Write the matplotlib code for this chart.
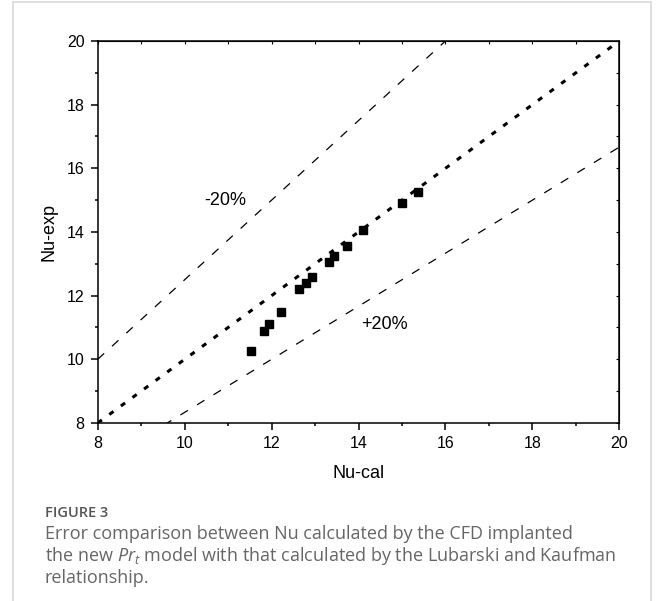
import matplotlib
matplotlib.use("Agg")
import matplotlib.pyplot as plt
from matplotlib.patches import Rectangle
from matplotlib.ticker import MultipleLocator

# Données
nu_cal = [11.52, 11.83, 11.95, 12.22, 12.64, 12.79, 12.92, 13.33, 13.44, 13.74, 14.10, 15.01, 15.38]
nu_exp = [10.26, 10.89, 11.12, 11.49, 12.20, 12.40, 12.60, 13.05, 13.25, 13.57, 14.06, 14.90, 15.25]
line_x = [8, 20]
err = 0.20

plt.rcParams['font.family'] = ['Liberation Sans', 'DejaVu Sans']
plt.rcParams['mathtext.fontset'] = 'custom'
plt.rcParams['mathtext.it'] = 'Open Sans:italic'
plt.rcParams['mathtext.rm'] = 'Open Sans'

fig = plt.figure(figsize=(6.58, 6.01), dpi=100)
ax = fig.add_axes([0.1485, 0.2962, 0.7927, 0.6356])

# Lignes de référence
ax.plot(line_x, line_x, color='black', lw=2.2, linestyle=(0, (1.7, 3.0)))
ax.plot(line_x, [v / (1 - err) for v in line_x], color='black', lw=0.9, linestyle=(0, (7, 8.5)))
ax.plot(line_x, [v / (1 + err) for v in line_x], color='black', lw=0.9, linestyle=(0, (7, 8.5)))

# Points
ax.plot(nu_cal, nu_exp, 's', color='black', markersize=6, linestyle='none')

ax.text(10.45, 15.0, '-20%', fontsize=13, va='center', ha='left')
ax.text(14.05, 11.09, '+20%', fontsize=13, va='center', ha='left')

ax.set_xlim(8, 20)
ax.set_ylim(8, 20)
ax.xaxis.set_major_locator(MultipleLocator(2))
ax.xaxis.set_minor_locator(MultipleLocator(1))
ax.yaxis.set_major_locator(MultipleLocator(2))
ax.yaxis.set_minor_locator(MultipleLocator(1))
ax.tick_params(which='major', direction='out', length=5, width=1.1, labelsize=11.5, pad=4.5)
ax.tick_params(which='minor', direction='out', length=2.5, width=1.1)
for s in ax.spines.values():
    s.set_linewidth(1.1)

# petites graduations en haut et à droite
secx = ax.secondary_xaxis('top')
secx.xaxis.set_major_locator(MultipleLocator(1))
secx.tick_params(direction='in', length=2, width=0.8, labeltop=False)
secy = ax.secondary_yaxis('right')
secy.yaxis.set_major_locator(MultipleLocator(1))
secy.tick_params(direction='in', length=2, width=0.8, labelright=False)

ax.set_xlabel('Nu-cal', fontsize=13)
ax.set_ylabel('Nu-exp', fontsize=13)
ax.xaxis.set_label_coords(0.5, -0.11)
ax.yaxis.set_label_coords(-0.077, 0.5)

# Cadre et légende de la figure
fig.patches.append(Rectangle((13 / 658, -0.1), (651 - 13) / 658, 1.1 - 1.5 / 601,
                             transform=fig.transFigure, fill=False,
                             edgecolor='#d9d9d9', lw=1.2))

cap_font = ['Open Sans', 'DejaVu Sans']
fig.text(45 / 658, 1 - 513 / 601, 'FIGURE 3', fontsize=10.5, fontweight='semibold',
         color='#555555', family=cap_font, va='center')
fig.text(45 / 658, 1 - 534 / 601, 'Error comparison between Nu calculated by the CFD implanted',
         fontsize=13, color='#666666', family=cap_font, va='center')
fig.text(45 / 658, 1 - 556 / 601,
         r'the new $\mathit{Pr}_{\mathit{t}}$ model with that calculated by the Lubarski and Kaufman',
         fontsize=13, color='#666666', family=cap_font, va='center')
fig.text(45 / 658, 1 - 578 / 601, 'relationship.',
         fontsize=13, color='#666666', family=cap_font, va='center')

fig.savefig('out.png', dpi=100)
